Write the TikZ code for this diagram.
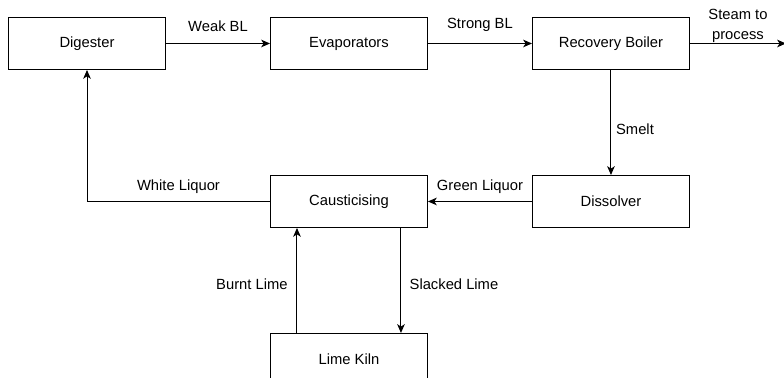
\documentclass[tikz,border=0pt]{standalone}
\usepackage{fontspec}
\setmainfont{Liberation Sans}
\usepackage{tikz}
\usetikzlibrary{arrows.meta, positioning, calc}

\begin{document}
\begin{tikzpicture}[
  block/.style={rectangle, draw=black, line width=0.7pt, minimum width=3.925cm, minimum height=1.3cm, align=center, font=\fontsize{10.5}{12.5}\selectfont},
  lbl/.style={font=\fontsize{10.5}{14}\selectfont, align=center},
  arrow/.style={-{Stealth[length=2.2mm, width=1.9mm, inset=0.6mm]}, line width=0.7pt, draw=black}
]
  % Top row
  \node[block] (digester) {Digester};
  \node[block, right=2.6cm of digester] (evap) {Evaporators};
  \node[block, right=2.6cm of evap] (boiler) {Recovery Boiler};

  % Middle row
  \node[block, below=2.625cm of boiler] (dissolver) {Dissolver};
  \node[block, below=2.625cm of evap] (caust) {Causticising};

  % Bottom
  \node[block, below=2.625cm of caust] (kiln) {Lime Kiln};

  % Free end of the steam line
  \coordinate[right=2.4cm of boiler.east] (steam);

  % Arrows
  \draw[arrow] (digester) -- node[lbl, above=5pt] {Weak BL} (evap);
  \draw[arrow] (evap) -- node[lbl, above=5pt] {Strong BL} (boiler);
  \draw[arrow] (boiler.east) -- node[lbl, above=-3pt] {Steam to\\process} (steam);
  \draw[arrow] (boiler) -- node[lbl, right, pos=0.56] {Smelt} (dissolver);
  \draw[arrow] (dissolver) -- node[lbl, above=2pt] {Green Liquor} (caust);
  \draw[arrow] (caust.west) -| node[lbl, above=2pt, pos=0.25] {White Liquor} (digester.south);
  \draw[arrow] ([xshift=0.675cm]kiln.north west) -- node[lbl, left=3pt, pos=0.46] {Burnt Lime} ([xshift=0.675cm]caust.south west);
  \draw[arrow] ([xshift=-0.675cm]caust.south east) -- node[lbl, right=2.5pt, pos=0.54] {Slacked Lime} ([xshift=-0.675cm]kiln.north east);

  % Frame
  \pgfresetboundingbox
  \useasboundingbox ($(digester.north west)+(-0.2,0.425)$) rectangle ++(19.6,-9.45);
\end{tikzpicture}
\end{document}
